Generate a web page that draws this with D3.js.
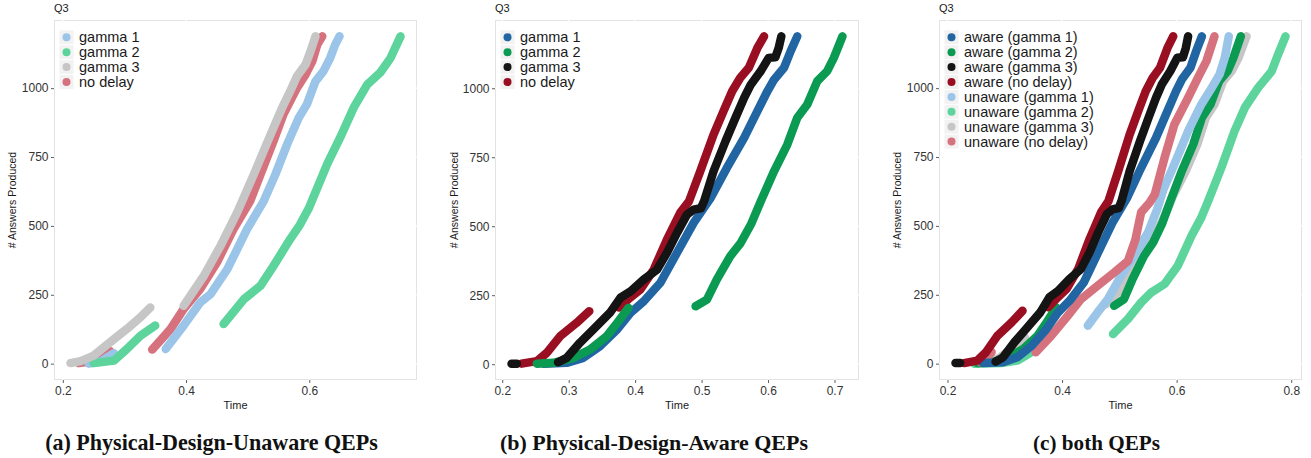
<!DOCTYPE html>
<html>
<head>
<meta charset="utf-8">
<script src="https://cdn.jsdelivr.net/npm/d3@7"></script>
<style>
  html, body { margin: 0; padding: 0; background: #ffffff; }
  svg { display: block; }
</style>
</head>
<body>
<svg id="chart" width="1311" height="458"></svg>
<script>
// ---------------- DATA (Time, # Answers Produced), one array of segments per series ----------------
const answerTicks = [0, 250, 500, 750, 1000];
const timeTicksA = [0.2, 0.4, 0.6];
const timeTicksB = [0.2, 0.3, 0.4, 0.5, 0.6, 0.7];
const timeTicksC = [0.2, 0.4, 0.6, 0.8];

// Panel (a): physical-design-unaware QEPs
const unawareGamma1 = [
  [[0.242,0],[0.262,8],[0.283,38]],
  [[0.367,53],[0.396,138],[0.423,222],[0.440,253],[0.467,343],[0.499,488],[0.526,590],[0.545,687],[0.564,796],[0.583,893],[0.596,941],[0.610,1025],[0.623,1062],[0.634,1110],[0.642,1158],[0.649,1188]]
];
const unawareGamma2 = [
  [[0.250,2],[0.283,11],[0.304,53],[0.326,101],[0.350,138]],
  [[0.461,144],[0.494,234],[0.521,283],[0.542,355],[0.569,452],[0.585,505],[0.600,568],[0.629,724],[0.650,820],[0.672,929],[0.694,1013],[0.715,1056],[0.732,1110],[0.748,1188]]
];
const unawareGamma3 = [
  [[0.2125,2],[0.229,9],[0.250,29],[0.277,78],[0.304,126],[0.326,168],[0.342,204]],
  [[0.396,210],[0.429,319],[0.456,428],[0.483,549],[0.491,590],[0.510,687],[0.526,772],[0.542,857],[0.556,929],[0.569,989],[0.580,1043],[0.594,1086],[0.602,1134],[0.610,1188]]
];
const unawareNoDelay = [
  [[0.226,2],[0.245,8],[0.262,20],[0.277,45]],
  [[0.345,51],[0.360,88],[0.375,126],[0.396,198],[0.423,271],[0.450,367],[0.477,488],[0.504,590],[0.523,699],[0.542,808],[0.558,905],[0.580,1001],[0.594,1050],[0.605,1098],[0.613,1158],[0.621,1188]]
];

// Panel (b): physical-design-aware QEPs (also drawn in panel c)
const awareGamma1 = [
  [[0.262,2],[0.297,5],[0.322,23],[0.347,65],[0.373,126],[0.393,186],[0.413,228],[0.438,295],[0.463,404],[0.488,512],[0.513,600],[0.538,711],[0.564,820],[0.584,917],[0.599,989],[0.609,1031],[0.624,1074],[0.634,1134],[0.644,1188]]
];
const awareGamma2 = [
  [[0.252,2],[0.277,5],[0.307,23],[0.332,53],[0.357,101],[0.373,150],[0.390,204]],
  [[0.491,210],[0.508,234],[0.523,307],[0.543,391],[0.559,440],[0.575,510],[0.589,590],[0.609,699],[0.629,796],[0.644,893],[0.659,941],[0.674,1025],[0.689,1062],[0.699,1110],[0.712,1188]]
];
const awareGamma3 = [
  [[0.214,2],[0.222,2]],
  [[0.284,7],[0.297,23],[0.317,78],[0.337,126],[0.362,186],[0.378,241],[0.393,264],[0.413,307],[0.433,343],[0.448,404],[0.463,476],[0.478,542],[0.488,560],[0.499,565],[0.504,592],[0.518,699],[0.536,808],[0.551,893],[0.564,965],[0.574,1013],[0.589,1062],[0.601,1110],[0.611,1112],[0.616,1146],[0.620,1188]]
];
const awareNoDelay = [
  [[0.229,2],[0.252,11],[0.267,41],[0.287,101],[0.312,150],[0.331,192]],
  [[0.376,205],[0.392,240],[0.408,271],[0.428,343],[0.448,452],[0.468,549],[0.481,590],[0.498,699],[0.518,832],[0.533,917],[0.546,989],[0.558,1037],[0.571,1074],[0.584,1146],[0.594,1188]]
];

// Panel (c): unaware runs as shown in the combined panel
const bothUnawareGamma1 = [
  [[0.445,138],[0.462,186],[0.480,234],[0.503,319],[0.526,391],[0.550,476],[0.566,560],[0.577,633],[0.596,724],[0.620,844],[0.643,941],[0.661,1001],[0.675,1050],[0.684,1110],[0.691,1188]]
];
const bothUnawareGamma2 = [
  [[0.247,0],[0.293,2],[0.322,11],[0.346,41],[0.369,101]],
  [[0.489,108],[0.515,162],[0.538,222],[0.556,259],[0.579,289],[0.602,355],[0.626,464],[0.643,530],[0.655,590],[0.678,711],[0.701,844],[0.719,929],[0.742,1001],[0.766,1062],[0.777,1122],[0.790,1188]]
];
const bothUnawareGamma3 = [
  [[0.262,2],[0.290,20],[0.315,60],[0.335,95]],
  [[0.477,216],[0.503,271],[0.532,355],[0.556,440],[0.579,536],[0.594,610],[0.616,699],[0.636,796],[0.651,893],[0.666,941],[0.681,1025],[0.696,1062],[0.708,1110],[0.722,1188]]
];
const bothUnawareNoDelay = [
  [[0.258,5],[0.268,20],[0.277,42]],
  [[0.354,41],[0.381,101],[0.410,174],[0.433,234],[0.462,283],[0.491,331],[0.515,373],[0.528,450],[0.538,549],[0.553,585],[0.562,615],[0.579,748],[0.596,868],[0.620,965],[0.637,1037],[0.652,1098],[0.666,1188]]
];

const legendLabelsSimple = ["gamma 1", "gamma 2", "gamma 3", "no delay"];
const legendLabelsBoth = ["aware (gamma 1)", "aware (gamma 2)", "aware (gamma 3)", "aware (no delay)",
  "unaware (gamma 1)", "unaware (gamma 2)", "unaware (gamma 3)", "unaware (no delay)"];
const captions = ["(a) Physical-Design-Unaware QEPs", "(b) Physical-Design-Aware QEPs", "(c) both QEPs"];

// ---------------- STYLE ----------------
const C = {
  aG1: "#2265a3", aG2: "#0b9a52", aG3: "#141414", aND: "#9a0e22",
  uG1: "#9ac4e8", uG2: "#5cd49b", uG3: "#c6c6c6", uND: "#d6727e"
};
const sansFont = "Liberation Sans, Arial, Helvetica, sans-serif";
const serifFont = "Liberation Serif, 'Times New Roman', serif";

const panels = [
  {
    left: 54, right: 417, ticks: timeTicksA, titleX: 12,
    legend: legendLabelsSimple, legendColors: [C.uG1, C.uG2, C.uG3, C.uND],
    draw: [[unawareNoDelay, C.uND], [unawareGamma1, C.uG1], [unawareGamma2, C.uG2], [unawareGamma3, C.uG3]],
    caption: captions[0], capX: 211.5, capW: 333
  },
  {
    left: 495, right: 859, ticks: timeTicksB, titleX: 454,
    legend: legendLabelsSimple, legendColors: [C.aG1, C.aG2, C.aG3, C.aND],
    draw: [[awareNoDelay, C.aND], [awareGamma1, C.aG1], [awareGamma2, C.aG2], [awareGamma3, C.aG3]],
    caption: captions[1], capX: 654, capW: 308
  },
  {
    left: 939, right: 1302, ticks: timeTicksC, titleX: 897,
    legend: legendLabelsBoth, legendColors: [C.aG1, C.aG2, C.aG3, C.aND, C.uG1, C.uG2, C.uG3, C.uND],
    draw: [[bothUnawareGamma2, C.uG2], [bothUnawareGamma3, C.uG3], [awareGamma2, C.aG2], [bothUnawareGamma1, C.uG1],
           [bothUnawareNoDelay, C.uND], [awareGamma1, C.aG1], [awareNoDelay, C.aND], [awareGamma3, C.aG3]],
    caption: captions[2], capX: 1096.5, capW: 127
  }
];

const svg = d3.select("#chart");
const panelTop = 20, panelBottom = 380;

function expandDomain(vals) {
  const [mn, mx] = d3.extent(vals);
  const pad = (mx - mn) * 0.05;
  return [mn - pad, mx + pad];
}

panels.forEach(p => {
  const allPts = p.draw.flatMap(([s]) => s.flat());
  const x = d3.scaleLinear().domain(expandDomain(allPts.map(d => d[0]))).range([p.left, p.right]);
  const y = d3.scaleLinear().domain(expandDomain(allPts.map(d => d[1]))).range([panelBottom, panelTop]);
  const g = svg.append("g");

  // panel border
  g.append("rect").attr("x", p.left + 0.5).attr("y", panelTop + 0.5)
    .attr("width", p.right - p.left - 1).attr("height", panelBottom - panelTop - 1)
    .attr("fill", "#ffffff").attr("stroke", "#e3e3e3").attr("stroke-width", 1);
  // white grid lines (cross the border like ggplot)
  g.selectAll(".vg").data(p.ticks).join("line")
    .attr("x1", d => x(d)).attr("x2", d => x(d)).attr("y1", panelTop).attr("y2", panelBottom)
    .attr("stroke", "#ffffff").attr("stroke-width", 1.2);
  g.selectAll(".hg").data(answerTicks).join("line")
    .attr("y1", d => y(d)).attr("y2", d => y(d)).attr("x1", p.left).attr("x2", p.right)
    .attr("stroke", "#ffffff").attr("stroke-width", 1.2);

  // axes
  const xAxis = d3.axisBottom(x).tickValues(p.ticks).tickSize(3).tickPadding(3).tickFormat(d3.format(".1f"));
  const yAxis = d3.axisLeft(y).tickValues(answerTicks).tickSize(3).tickPadding(2.5).tickFormat(d3.format("d"));
  const gx = g.append("g").attr("transform", `translate(0,${panelBottom})`).call(xAxis);
  const gy = g.append("g").attr("transform", `translate(${p.left},0)`).call(yAxis);
  [gx, gy].forEach(ax => {
    ax.select(".domain").remove();
    ax.selectAll(".tick line").attr("stroke", "#333333").attr("stroke-width", 0.8);
    ax.selectAll(".tick text").attr("fill", "#333333").style("font-family", sansFont).style("font-size", "12px");
  });

  // data trails
  const line = d3.line().x(d => x(d[0])).y(d => y(d[1]));
  p.draw.forEach(([series, col]) => {
    g.append("g").selectAll("path").data(series).join("path")
      .attr("d", line)
      .attr("fill", "none").attr("stroke", col).attr("stroke-width", 8.5)
      .attr("stroke-linecap", "round").attr("stroke-linejoin", "round");
  });

  // legend
  const lg = g.append("g");
  const rowH = 14.9, keyX = p.left + 5.5, firstY = 37.3;
  p.legend.forEach((lab, i) => {
    const cy = firstY + i * rowH;
    lg.append("rect").attr("x", keyX).attr("y", cy - rowH / 2 + 0.5).attr("width", 14).attr("height", rowH - 1)
      .attr("fill", "#f2f2f2");
    lg.append("circle").attr("cx", keyX + 7).attr("cy", cy).attr("r", 4).attr("fill", p.legendColors[i]);
    lg.append("text").attr("x", keyX + 19.5).attr("y", cy).attr("dy", "0.35em")
      .style("font-family", sansFont).style("font-size", "14.5px").attr("fill", "#1a1a1a").text(lab);
  });

  // titles
  g.append("text").attr("x", p.left).attr("y", 12)
    .style("font-family", sansFont).style("font-size", "11px").attr("fill", "#1a1a1a").text("Q3");
  g.append("text").attr("x", (p.left + p.right) / 2).attr("y", 409).attr("text-anchor", "middle")
    .style("font-family", sansFont).style("font-size", "11px").attr("fill", "#1a1a1a").text("Time");
  g.append("text").attr("transform", `translate(${p.titleX + 4},${(panelTop + panelBottom) / 2}) rotate(-90)`)
    .attr("text-anchor", "middle")
    .style("font-family", sansFont).style("font-size", "10.5px").attr("fill", "#1a1a1a").text("# Answers Produced");

  // caption
  const cap = svg.append("text").attr("x", p.capX).attr("y", 449.5).attr("text-anchor", "middle")
    .style("font-family", serifFont).style("font-weight", "bold").style("font-size", "19px")
    .attr("fill", "#111111").text(p.caption);
  const w = cap.node().getComputedTextLength();
  if (w > 0) cap.style("font-size", (19 * p.capW / w).toFixed(2) + "px");
});
</script>
</body>
</html>
